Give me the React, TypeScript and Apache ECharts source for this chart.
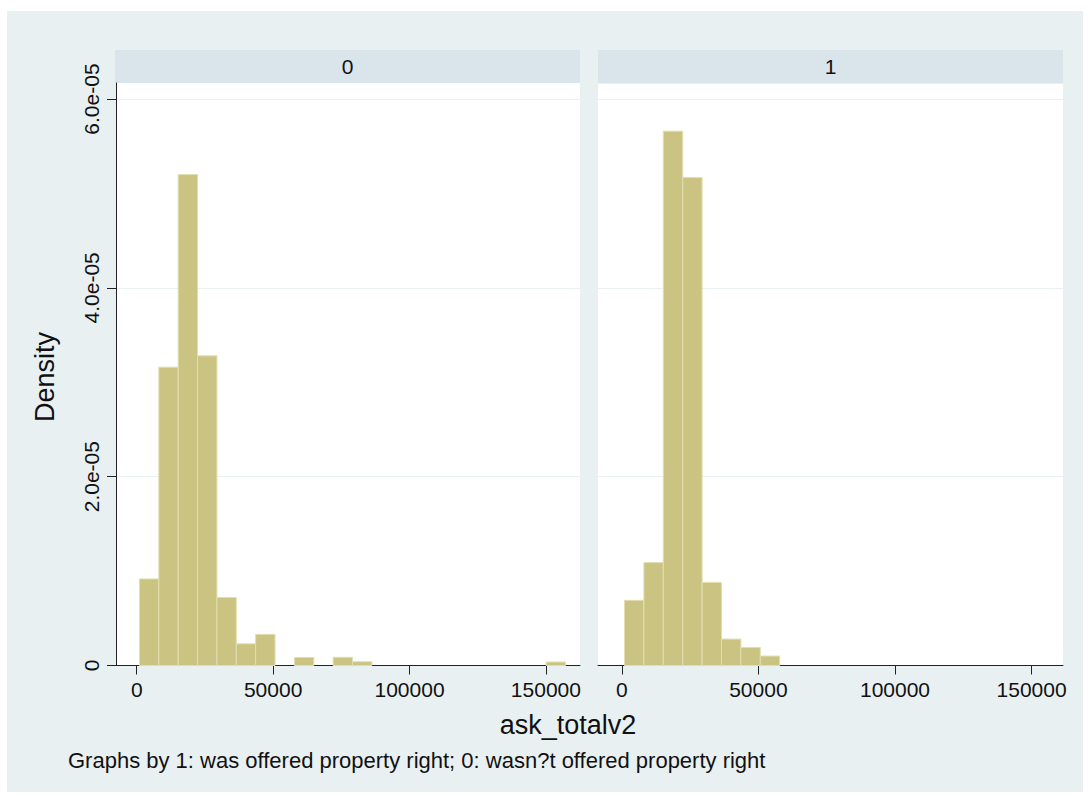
import React, { useEffect, useRef } from "react";
import * as echarts from "echarts";

// Histogram bin edges (ask_totalv2), shared by both panels
const binEdges = [
  1000, 8100, 15200, 22300, 29400, 36500, 43600, 50700, 57800, 64900, 72000,
  79100, 86200, 93300, 100400, 107500, 114600, 121700, 128800, 135900, 143000,
  150100, 157200,
];

// Density per bin, panel "0" (wasn't offered property right)
const density0 = [
  9.17e-6, 3.16e-5, 5.2e-5, 3.28e-5, 7.2e-6, 2.3e-6, 3.3e-6, 0, 8.5e-7, 0,
  8.7e-7, 4e-7, 0, 0, 0, 0, 0, 0, 0, 0, 0, 3.7e-7,
];

// Density per bin, panel "1" (was offered property right)
const density1 = [
  6.9e-6, 1.09e-5, 5.66e-5, 5.17e-5, 8.8e-6, 2.8e-6, 1.9e-6, 1.0e-6, 0, 0, 0,
  0, 0, 0, 0, 0, 0, 0, 0, 0, 0, 0,
];

const panelLabels = ["0", "1"];
const xTickValues = [0, 50000, 100000, 150000];
const yTickValues = [0, 2e-5, 4e-5, 6e-5];

const FONT = "Arial, 'Liberation Sans', sans-serif";
const TXT = "#111111";
const BAR_FILL = "#CAC382";
const BAR_EDGE = "#E2DEB0";
const GRID_LINE = "#E8F0F2";
const OUTER_BG = "#E9F0F2";
const HEADER_BG = "#D9E5EB";

function toSeriesData(d: number[]) {
  const out: number[][] = [];
  d.forEach((v, i) => {
    if (v > 0) out.push([binEdges[i], binEdges[i + 1], v]);
  });
  return out;
}

function yLabel(v: number) {
  if (v === 0) return "0";
  return (v * 1e5).toFixed(1) + "e-05";
}

export default function App() {
  const ref = useRef<HTMLDivElement>(null);

  useEffect(() => {
    if (!ref.current) return;
    const chart = echarts.init(ref.current, undefined, { renderer: "svg" });

    const renderItem = (params: any, api: any) => {
      const x0 = api.value(0);
      const x1 = api.value(1);
      const y = api.value(2);
      const p0 = api.coord([x0, y]);
      const p1 = api.coord([x1, 0]);
      return {
        type: "rect",
        shape: { x: p0[0], y: p0[1], width: p1[0] - p0[0], height: p1[1] - p0[1] },
        style: { fill: BAR_FILL, stroke: BAR_EDGE, lineWidth: 1 },
      };
    };

    const xAxisCommon = {
      type: "value",
      interval: 50000,
      axisLine: { show: true, onZero: false, lineStyle: { color: "#222", width: 1 } },
      axisTick: {
        show: true,
        length: 9,
        customValues: xTickValues,
        lineStyle: { color: "#222", width: 1 },
      },
      axisLabel: {
        customValues: xTickValues,
        margin: 13,
        color: TXT,
        fontSize: 21,
        fontFamily: FONT,
        formatter: (v: number) => String(v),
      },
      splitLine: { show: false },
    };

    const yAxisCommon = {
      type: "value",
      min: 0,
      max: 6.17e-5,
      interval: 2e-5,
      splitLine: { show: true, lineStyle: { color: GRID_LINE, width: 1 } },
    };

    chart.setOption({
      animation: false,
      backgroundColor: "#ffffff",
      grid: [
        { left: 116, top: 83, width: 464, height: 582.5 },
        { left: 598, top: 83, width: 465, height: 582.5 },
      ],
      xAxis: [
        { ...xAxisCommon, gridIndex: 0, min: -7600, max: 162500 },
        { ...xAxisCommon, gridIndex: 1, min: -8700, max: 161500 },
      ],
      yAxis: [
        {
          ...yAxisCommon,
          gridIndex: 0,
          axisLine: { show: true, onZero: false, lineStyle: { color: "#222", width: 1 } },
          axisTick: {
            show: true,
            length: 9,
            customValues: yTickValues,
            lineStyle: { color: "#222", width: 1 },
          },
          axisLabel: {
            customValues: yTickValues,
            rotate: 90,
            margin: 14,
            color: TXT,
            fontSize: 21,
            fontFamily: FONT,
            formatter: yLabel,
          },
        },
        {
          ...yAxisCommon,
          gridIndex: 1,
          axisLine: { show: false, onZero: false },
          axisTick: { show: false },
          axisLabel: { show: false },
        },
      ],
      graphic: [
        {
          type: "rect",
          z: -10,
          silent: true,
          shape: { x: 7, y: 11, width: 1076, height: 781 },
          style: { fill: OUTER_BG },
        },
        {
          type: "rect",
          z: -5,
          silent: true,
          shape: { x: 115, y: 50, width: 465, height: 33 },
          style: { fill: HEADER_BG },
        },
        {
          type: "rect",
          z: -5,
          silent: true,
          shape: { x: 598, y: 50, width: 465, height: 33 },
          style: { fill: HEADER_BG },
        },
        {
          type: "rect",
          z: -5,
          silent: true,
          shape: { x: 116, y: 83, width: 464, height: 582.5 },
          style: { fill: "#ffffff" },
        },
        {
          type: "rect",
          z: -5,
          silent: true,
          shape: { x: 598, y: 83, width: 465, height: 582.5 },
          style: { fill: "#ffffff" },
        },
        {
          type: "text",
          x: 347.5,
          y: 66.5,
          style: {
            text: panelLabels[0],
            align: "center",
            verticalAlign: "middle",
            fill: TXT,
            font: `21px ${FONT}`,
          },
        },
        {
          type: "text",
          x: 830.5,
          y: 66.5,
          style: {
            text: panelLabels[1],
            align: "center",
            verticalAlign: "middle",
            fill: TXT,
            font: `21px ${FONT}`,
          },
        },
        {
          type: "text",
          x: 45,
          y: 377,
          rotation: Math.PI / 2,
          style: {
            text: "Density",
            align: "center",
            verticalAlign: "middle",
            fill: TXT,
            font: `27px ${FONT}`,
          },
        },
        {
          type: "text",
          x: 568,
          y: 725,
          style: {
            text: "ask_totalv2",
            align: "center",
            verticalAlign: "middle",
            fill: TXT,
            font: `27px ${FONT}`,
          },
        },
        {
          type: "text",
          x: 68,
          y: 760,
          style: {
            text: "Graphs by 1: was offered property right; 0: wasn?t offered property right",
            align: "left",
            verticalAlign: "middle",
            fill: TXT,
            font: `22px ${FONT}`,
          },
        },
      ],
      series: [
        {
          type: "custom",
          xAxisIndex: 0,
          yAxisIndex: 0,
          renderItem,
          encode: { x: [0, 1], y: 2 },
          data: toSeriesData(density0),
        },
        {
          type: "custom",
          xAxisIndex: 1,
          yAxisIndex: 1,
          renderItem,
          encode: { x: [0, 1], y: 2 },
          data: toSeriesData(density1),
        },
      ],
    });

    return () => chart.dispose();
  }, []);

  return (
    <div
      ref={ref}
      style={{ position: "absolute", left: 0, top: 0, width: 1088, height: 796 }}
    />
  );
}
